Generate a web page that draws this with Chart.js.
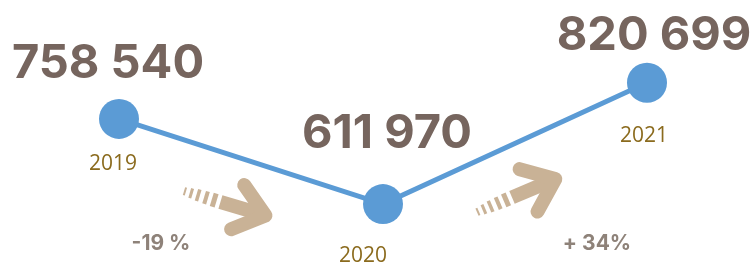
<!DOCTYPE html>
<html>
<head>
<meta charset="utf-8">
<script src="https://cdn.jsdelivr.net/npm/chart.js@4/dist/chart.umd.min.js"></script>
<style>
  html, body { margin: 0; padding: 0; background: #ffffff; }
  canvas { display: block; }
</style>
</head>
<body>
<canvas id="grafica" width="755" height="264"></canvas>
<script>
// datos
const years = ['2019', '2020', '2021'];
const values = [758540, 611970, 820699];
const valueLabels = ['758 540', '611 970', '820 699'];
const changeLabels = ['-19 %', '+ 34%'];

const AZUL = '#5b9bd5';
const MARRON = '#76655e';
const OCRE = '#8b6b1e';
const BEIGE = '#c9b296';
const GRIS = '#8e8279';

// offsets de las etiquetas respecto a cada punto (px)
const valueOffsets = [[-11, -41], [4, -56], [7, -33]];
const yearOffsets = [[-6, 51], [-20, 58], [-3, 59]];

function drawArrow(ctx, x, y, angle) {
    ctx.save();
    ctx.translate(x, y);
    ctx.rotate(angle);
    ctx.fillStyle = BEIGE;
    ctx.strokeStyle = BEIGE;
    // cola a rayas
    const rayas = [[0, 2, 8], [6, 3, 10], [13, 3.5, 12], [21, 4, 13], [29, 5, 14]];
    rayas.forEach(([px, w, h]) => ctx.fillRect(px, -h / 2, w, h));
    // cuerpo
    ctx.fillRect(38, -7, 44, 14);
    // punta
    ctx.lineWidth = 14;
    ctx.lineCap = 'round';
    ctx.lineJoin = 'round';
    ctx.beginPath();
    ctx.moveTo(56, -23);
    ctx.lineTo(85, 0);
    ctx.lineTo(56, 23);
    ctx.stroke();
    ctx.restore();
}

const etiquetas = {
    id: 'etiquetas',
    afterDraw(chart) {
        const ctx = chart.ctx;
        const pts = chart.getDatasetMeta(0).data;
        ctx.save();
        ctx.textAlign = 'center';
        ctx.textBaseline = 'alphabetic';

        pts.forEach((p, i) => {
            ctx.fillStyle = MARRON;
            ctx.font = '700 47px Inter';
            ctx.fillText(valueLabels[i], p.x + valueOffsets[i][0], p.y + valueOffsets[i][1]);
            ctx.fillStyle = OCRE;
            ctx.font = '400 21px "Open Sans"';
            ctx.fillText(years[i], p.x + yearOffsets[i][0], p.y + yearOffsets[i][1]);
        });

        // flechas y porcentajes entre puntos
        drawArrow(ctx, pts[0].x + 65, pts[1].y - 13, 0.29);
        drawArrow(ctx, pts[1].x + 94, pts[1].y + 8, -0.40);

        ctx.fillStyle = GRIS;
        ctx.font = '700 21px Inter';
        ctx.fillText(changeLabels[0], pts[0].x + 42, 250);
        ctx.fillText(changeLabels[1], pts[1].x + 214, 250);
        ctx.restore();
    }
};

new Chart(document.getElementById('grafica'), {
    type: 'line',
    data: {
        labels: years,
        datasets: [{
            data: values,
            borderColor: AZUL,
            borderWidth: 5,
            backgroundColor: AZUL,
            pointBackgroundColor: AZUL,
            pointBorderWidth: 0,
            pointRadius: 20,
            tension: 0,
            clip: false
        }]
    },
    options: {
        responsive: false,
        animation: false,
        layout: { autoPadding: false, padding: { left: 119, right: 108, top: 0, bottom: 0 } },
        plugins: { legend: { display: false }, tooltip: { enabled: false } },
        scales: {
            x: { display: false, offset: false },
            y: { display: false, min: 509000, max: 963000 }
        }
    },
    plugins: [etiquetas]
});
</script>
</body>
</html>
